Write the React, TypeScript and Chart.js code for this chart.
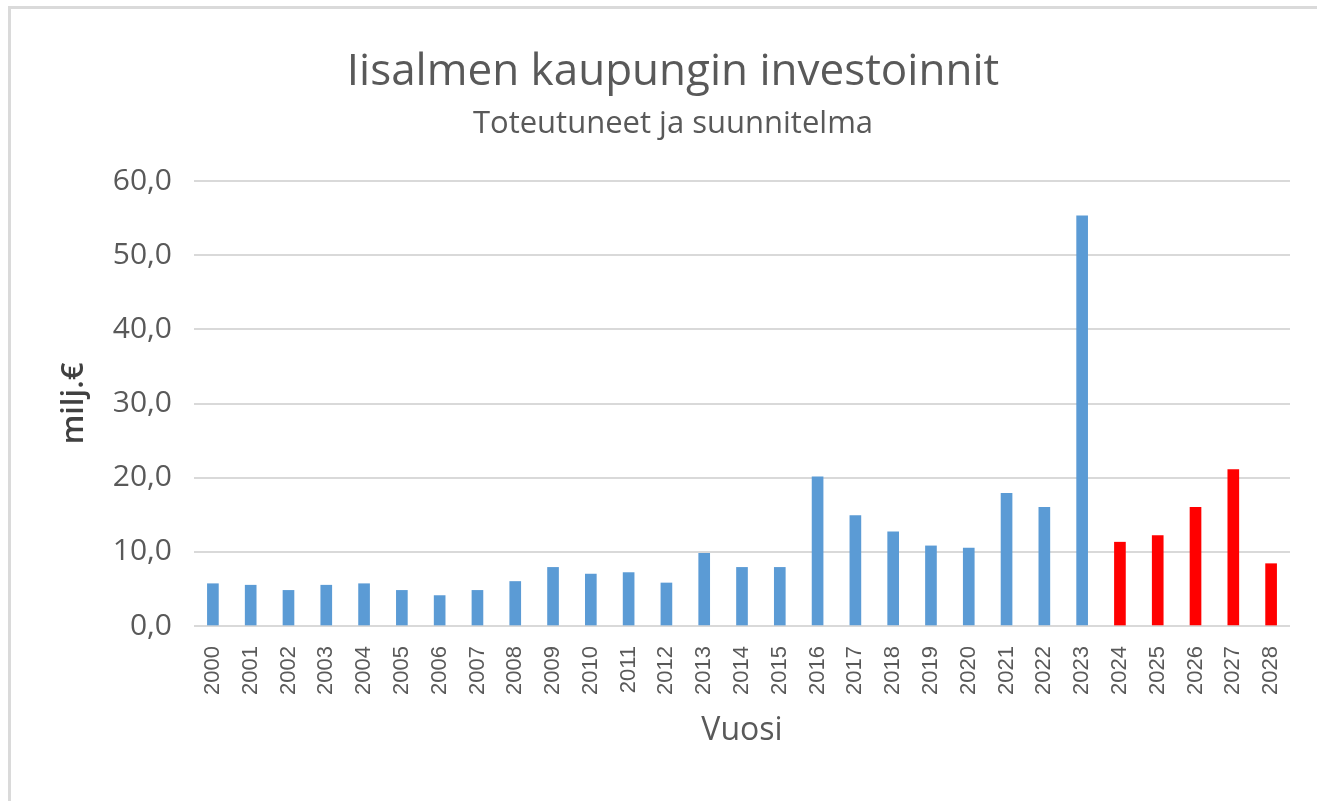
import React, { useEffect, useRef } from "react";
import { Chart, registerables } from "chart.js";

Chart.register(...registerables);

const years: string[] = [
  "2000", "2001", "2002", "2003", "2004", "2005", "2006", "2007", "2008", "2009",
  "2010", "2011", "2012", "2013", "2014", "2015", "2016", "2017", "2018", "2019",
  "2020", "2021", "2022", "2023", "2024", "2025", "2026", "2027", "2028",
];

// Toteutuneet (2000–2023)
const actualValues: number[] = [
  5.7, 5.5, 4.8, 5.5, 5.7, 4.8, 4.1, 4.8, 6.0, 7.9,
  7.0, 7.2, 5.8, 9.8, 7.9, 7.9, 20.1, 14.9, 12.7, 10.8,
  10.5, 17.9, 16.0, 55.3,
];

// Suunnitelma (2024–2028)
const plannedValues: number[] = [11.3, 12.2, 16.0, 21.1, 8.4];

const yTicks: number[] = [0, 10, 20, 30, 40, 50, 60];

const ACTUAL_COLOR = "#5B9BD5";
const PLANNED_COLOR = "#FF0000";
const TEXT = "#595959";
const GRID = "#D9D9D9";

export default function App() {
  const canvasRef = useRef<HTMLCanvasElement | null>(null);

  useEffect(() => {
    if (!canvasRef.current) return;
    const data = [...actualValues, ...plannedValues];
    const colors = [
      ...actualValues.map(() => ACTUAL_COLOR),
      ...plannedValues.map(() => PLANNED_COLOR),
    ];
    const chart = new Chart(canvasRef.current, {
      type: "bar",
      data: {
        labels: years,
        datasets: [
          {
            label: "Investoinnit",
            data,
            backgroundColor: colors,
            borderWidth: 0,
            barThickness: 11,
          },
        ],
      },
      options: {
        responsive: false,
        animation: false,
        devicePixelRatio: 1,
        layout: { padding: { left: 56, right: 27, top: 0, bottom: 0 } },
        plugins: {
          legend: { display: false },
          tooltip: { enabled: false },
          title: {
            display: true,
            text: "Iisalmen kaupungin investoinnit",
            color: TEXT,
            font: { family: "'Open Sans', sans-serif", size: 44, weight: "normal", lineHeight: 1.2 },
            padding: { top: 46, bottom: 0 },
          },
          subtitle: {
            display: true,
            text: "Toteutuneet ja suunnitelma",
            color: TEXT,
            font: { family: "'Open Sans', sans-serif", size: 31, weight: "normal", lineHeight: 1.2 },
            padding: { top: 7, bottom: 38 },
          },
        },
        scales: {
          x: {
            grid: { display: false },
            border: { display: false },
            ticks: {
              color: TEXT,
              font: { family: "'Liberation Sans', Arial, sans-serif", size: 22 },
              minRotation: 90,
              maxRotation: 90,
              autoSkip: false,
              padding: 12,
            },
            title: {
              display: true,
              text: "Vuosi",
              color: TEXT,
              font: { family: "'Open Sans', sans-serif", size: 32, lineHeight: 1.2 },
              padding: { top: 0, bottom: 51 },
            },
            afterFit: (scale: any) => {
              scale.height = 175;
            },
          },
          y: {
            min: 0,
            max: 60,
            afterBuildTicks: (scale: any) => {
              scale.ticks = yTicks.map((v) => ({ value: v }));
            },
            grid: { color: GRID, lineWidth: 2, drawTicks: false },
            border: { display: false },
            ticks: {
              color: TEXT,
              font: { family: "'Open Sans', sans-serif", size: 30 },
              padding: 22,
              callback: (v: any) => Number(v).toFixed(1).replace(".", ","),
            },
            title: {
              display: true,
              text: "milj.€",
              color: "#404040",
              font: { family: "'Open Sans', sans-serif", size: 31, weight: "600", lineHeight: 1.2 },
              padding: { top: 0, bottom: 0 },
            },
            afterFit: (scale: any) => {
              scale.width = 138;
            },
          },
        },
      },
    });
    return () => chart.destroy();
  }, []);

  return (
    <div style={{ position: "absolute", left: 0, top: 0, width: 1317, height: 801, background: "#fff" }}>
      <div
        style={{
          position: "absolute",
          left: 8,
          top: 6,
          width: 1317 - 8,
          height: 801 - 6,
          borderTop: "3px solid #DADADA",
          borderLeft: "3px solid #DADADA",
          boxSizing: "border-box",
          pointerEvents: "none",
        }}
      />
      <canvas ref={canvasRef} width={1317} height={801} style={{ position: "absolute", left: 0, top: 0 }} />
    </div>
  );
}
